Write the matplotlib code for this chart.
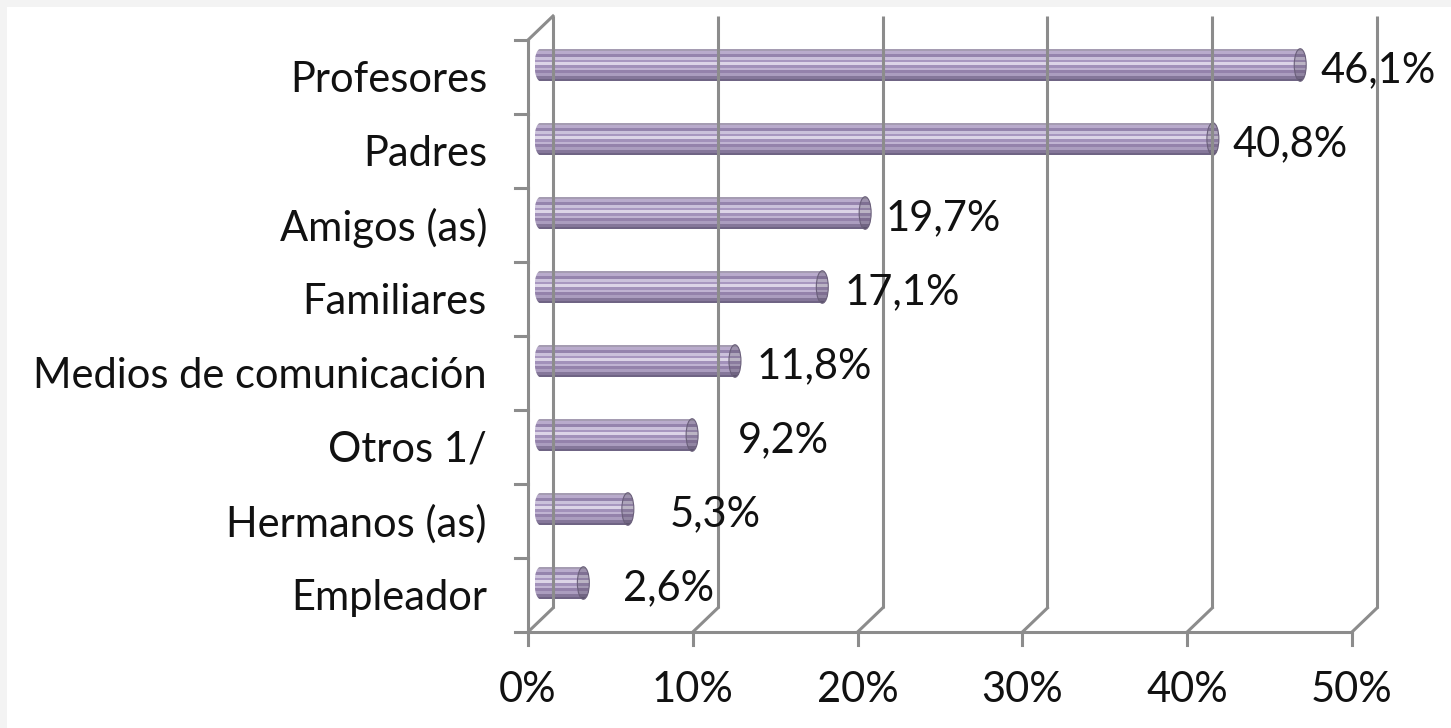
import matplotlib
matplotlib.use('Agg')
import matplotlib.pyplot as plt
from matplotlib.patches import Ellipse, Rectangle
from matplotlib.colors import to_rgb

# data
categories = ['Profesores', 'Padres', 'Amigos (as)', 'Familiares',
              'Medios de comunicación', 'Otros 1/', 'Hermanos (as)', 'Empleador']
values = [46.1, 40.8, 19.7, 17.1, 11.8, 9.2, 5.3, 2.6]
value_labels = ['46,1%', '40,8%', '19,7%', '17,1%', '11,8%', '9,2%', '5,3%', '2,6%']
xticks = [0, 10, 20, 30, 40, 50]
xtick_labels = ['0%', '10%', '20%', '30%', '40%', '50%']

# extra label gap (pixels) - excel pushes the short bars' labels further out
label_gap = [14, 14, 14, 16, 16, 40, 36, 34]

plt.rcParams['font.family'] = ['Lato', 'DejaVu Sans']

W, H = 1451, 728
fig = plt.figure(figsize=(W / 100, H / 100), dpi=100)
fig.patch.set_facecolor('#f3f3f3')
# white chart area with a thin gray margin on top/left
fig.patches.append(Rectangle((7 / W, 0), 1, 1 - 7 / H, transform=fig.transFigure,
                             facecolor='white', lw=0, zorder=-10))

# back wall of the fake 3d chart
L, R, T, B = 553, 1377, 16, 608
ax = fig.add_axes([L / W, 1 - B / H, (R - L) / W, (B - T) / H])
n = len(categories)
ax.set_xlim(0, 50)
ax.set_ylim(n - 0.5, -0.5)
ax.axis('off')

# pixel size in data units
px_x = 50 / (R - L)
px_y = n / (B - T)
dx = 25 * px_x   # depth offset
dy = 24 * px_y

grid = '#8c8c8c'
lw = 2.2

# back gridlines + floor diagonals
ax.vlines(xticks, -0.5, n - 0.5, color=grid, lw=lw, clip_on=False)
for x in xticks:
    ax.plot([x - dx, x], [n - 0.5 + dy, n - 0.5], color=grid, lw=lw, clip_on=False)
    ax.plot([x - dx, x - dx], [n - 0.5 + dy, n - 0.5 + dy + 13 * px_y],
            color=grid, lw=lw, clip_on=False)
# front floor line
ax.plot([-dx, 50 - dx], [n - 0.5 + dy, n - 0.5 + dy], color=grid, lw=lw, clip_on=False)
# left wall front edge + top diagonal
ax.plot([-dx, -dx], [-0.5 + dy, n - 0.5 + dy], color=grid, lw=lw, clip_on=False)
ax.plot([-dx, 0], [-0.5 + dy, -0.5], color=grid, lw=lw, clip_on=False)
for k in range(n + 1):
    yk = k - 0.5 + dy
    ax.plot([-dx - 13 * px_x, -dx], [yk, yk], color=grid, lw=lw, clip_on=False)

# striped cylinders
stripes = ['#a59cb2', '#b9abcc', '#9584ad', '#cbc1db', '#a897c0', '#dcd4e7',
           '#a291ba', '#c0b3d2', '#9482ab', '#ab9dbf', '#85779a', '#6f6484']
ns = len(stripes)
bh = 0.44
rx = 6 * px_x

def draw_stripes(x0, width, yc, shade=1.0, clip=None):
    for s, c in enumerate(stripes):
        col = tuple(v * shade for v in to_rgb(c))
        ys = yc - bh / 2 + (s + 0.5) * bh / ns
        bars = ax.barh(ys, width, left=x0, height=bh / ns * 1.02, color=col,
                       lw=0, clip_on=False)
        if clip is not None:
            for b in bars:
                b.set_clip_on(True)
                b.set_clip_path(clip)
                b.set_clip_box(None)

for i, (v, lab) in enumerate(zip(values, value_labels)):
    yc = i + dy / 2
    x0 = -dx / 2
    # left rounded end
    e_left = Ellipse((x0, yc), 2 * rx, bh, transform=ax.transData)
    draw_stripes(x0 - rx, 2 * rx, yc, 1.0, e_left)
    draw_stripes(x0, v, yc)
    # right end cap
    e_right = Ellipse((x0 + v, yc), 2 * rx, bh, transform=ax.transData)
    draw_stripes(x0 + v - rx, 2 * rx, yc, 0.85, e_right)
    ax.add_patch(Ellipse((x0 + v, yc), 2 * rx, bh, fill=False,
                         ec='#6a5f7a', lw=0.8, clip_on=False))
    ax.annotate(lab, (x0 + v + rx, yc), xytext=(label_gap[i], -5),
                textcoords='offset pixels', ha='left', va='center',
                fontsize=30, color='#111111', annotation_clip=False)

# category labels
for i, c in enumerate(categories):
    ax.text(-dx - 41 * px_x, i + dy + 3 * px_y, c, ha='right', va='center',
            fontsize=30, color='#111111')

# x tick labels
for x, t in zip(xticks, xtick_labels):
    ax.text(x - dx, n - 0.5 + dy + 58 * px_y, t, ha='center', va='center',
            fontsize=30, color='#111111')

fig.savefig('out.png', dpi=100, facecolor=fig.get_facecolor())
